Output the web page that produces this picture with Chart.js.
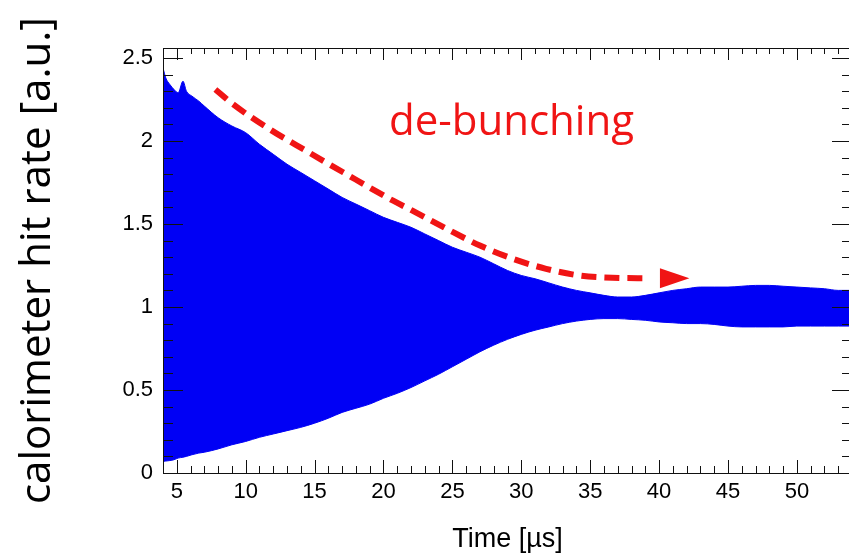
<!DOCTYPE html>
<html>
<head>
<meta charset="utf-8">
<title>calorimeter hit rate</title>
<script src="https://cdn.jsdelivr.net/npm/chart.js@4.4.1/dist/chart.umd.min.js"></script>
<style>
  html, body { margin: 0; padding: 0; background: #fff; overflow: hidden; }
  canvas { display: block; }
</style>
</head>
<body>
<canvas id="rate-chart" width="856" height="553"></canvas>
<script>
// time bins [us] and the envelope of the hit-rate oscillation
const times = [4.0, 4.2, 4.5, 4.8, 5.1, 5.45, 5.7, 6.1, 6.6, 7, 8, 9, 10, 11, 12, 13, 14, 15, 16, 17, 18, 19,
  20, 21, 22, 23, 24, 25, 26, 27, 28, 29, 30, 31, 32, 33, 34, 35, 36, 37, 38, 39, 40, 41, 42, 43, 44,
  45, 46, 47, 48, 49, 50, 51, 52, 53, 54];
const upperEdge = [2.44, 2.38, 2.34, 2.31, 2.29, 2.36, 2.30, 2.27, 2.24, 2.21, 2.14, 2.09, 2.05, 1.98, 1.92,
  1.86, 1.81, 1.76, 1.71, 1.66, 1.62, 1.58, 1.54, 1.51, 1.48, 1.44, 1.40, 1.36, 1.33, 1.30, 1.26, 1.22,
  1.19, 1.17, 1.145, 1.12, 1.10, 1.085, 1.07, 1.06, 1.06, 1.07, 1.085, 1.10, 1.11, 1.12, 1.12, 1.12,
  1.125, 1.13, 1.13, 1.125, 1.12, 1.115, 1.11, 1.10, 1.10];
const lowerEdge = [0.07, 0.072, 0.075, 0.08, 0.09, 0.095, 0.10, 0.11, 0.12, 0.125, 0.145, 0.17, 0.19, 0.215,
  0.235, 0.255, 0.275, 0.30, 0.33, 0.365, 0.39, 0.415, 0.45, 0.48, 0.515, 0.555, 0.595, 0.64, 0.685, 0.73,
  0.77, 0.805, 0.835, 0.86, 0.88, 0.90, 0.915, 0.925, 0.93, 0.93, 0.925, 0.92, 0.91, 0.905, 0.90, 0.90,
  0.895, 0.885, 0.88, 0.88, 0.88, 0.88, 0.885, 0.885, 0.885, 0.885, 0.885];

// "de-bunching" arrow path
const arrowTimes = [7.8, 9.1, 11.75, 14.4, 17.1, 20.7, 22.1, 24.6, 27.0, 29.4, 31.8, 34.2, 36.6, 39.3];
const arrowRates = [2.31, 2.22, 2.07, 1.94, 1.81, 1.64, 1.58, 1.47, 1.37, 1.29, 1.23, 1.19, 1.176, 1.173];
const arrowHead = { base: 40.06, tip: 42.2, rate: 1.173 };
const noteText = 'de-bunching';
const notePos = { x: 20.4, y: 2.036 };

const xTicks = [5, 10, 15, 20, 25, 30, 35, 40, 45, 50];
const yTicks = [0, 0.5, 1, 1.5, 2, 2.5];

const BLUE = '#0000f5';
const RED = 'rgb(240, 20, 20)';

// ROOT style frame: box plus inward ticks on all four sides
const frameTicks = {
  id: 'frameTicks',
  afterDraw(chart) {
    const { ctx, chartArea: { left, right, top, bottom }, scales: { x, y } } = chart;
    const px = (v) => Math.round(v) + 0.5;
    ctx.save();
    ctx.strokeStyle = '#111';
    ctx.lineWidth = 1;
    ctx.beginPath();
    ctx.rect(px(left), px(top), Math.round(right - left), Math.round(bottom - top));
    for (let k = 4; k <= 54; k++) {
      const xp = px(x.getPixelForValue(k));
      const major = k % 5 === 0;
      const lb = major ? 13 : 7;
      const lt = major ? 12 : 6;
      ctx.moveTo(xp, bottom);
      ctx.lineTo(xp, bottom - lb);
      ctx.moveTo(xp, top);
      ctx.lineTo(xp, top + lt);
    }
    for (let k = 0; k <= 25; k++) {
      const yp = px(y.getPixelForValue(k / 10));
      const len = k % 5 === 0 ? 20 : 10;
      ctx.moveTo(left, yp);
      ctx.lineTo(left + len, yp);
      ctx.moveTo(right, yp);
      ctx.lineTo(right - len, yp);
    }
    ctx.stroke();
    ctx.restore();
  },
};

// arrow head and the red label
const debunchNote = {
  id: 'debunchNote',
  afterDatasetsDraw(chart) {
    const { ctx, scales: { x, y } } = chart;
    const bx = x.getPixelForValue(arrowHead.base);
    const tx = x.getPixelForValue(arrowHead.tip);
    const ay = y.getPixelForValue(arrowHead.rate);
    ctx.save();
    ctx.fillStyle = RED;
    ctx.beginPath();
    ctx.moveTo(bx, ay - 10);
    ctx.lineTo(tx, ay);
    ctx.lineTo(bx, ay + 10);
    ctx.closePath();
    ctx.fill();
    ctx.font = '42px "Open Sans"';
    ctx.textAlign = 'left';
    ctx.textBaseline = 'alphabetic';
    ctx.fillText(noteText, x.getPixelForValue(notePos.x), y.getPixelForValue(notePos.y));
    ctx.restore();
  },
};

const tickFont = { family: '"Liberation Sans", Arial, sans-serif', size: 22 };

new Chart(document.getElementById('rate-chart'), {
  type: 'line',
  data: {
    datasets: [
      {
        data: times.map((t, i) => ({ x: t, y: lowerEdge[i] })),
        borderColor: BLUE,
        borderWidth: 1,
        pointRadius: 0,
        cubicInterpolationMode: 'monotone',
        fill: false,
      },
      {
        data: times.map((t, i) => ({ x: t, y: upperEdge[i] })),
        borderColor: BLUE,
        borderWidth: 1,
        backgroundColor: BLUE,
        pointRadius: 0,
        cubicInterpolationMode: 'monotone',
        fill: '-1',
      },
      {
        data: arrowTimes.map((t, i) => ({ x: t, y: arrowRates[i] })),
        borderColor: RED,
        borderWidth: 6,
        borderDash: [15, 8],
        borderCapStyle: 'butt',
        pointRadius: 0,
        cubicInterpolationMode: 'monotone',
        fill: false,
      },
    ],
  },
  options: {
    responsive: false,
    animation: false,
    devicePixelRatio: 1,
    layout: { padding: { top: 48, right: 4, left: 0, bottom: 0 } },
    plugins: {
      legend: { display: false },
      tooltip: { enabled: false },
    },
    scales: {
      x: {
        type: 'linear',
        min: 4,
        max: 54,
        border: { display: false },
        grid: { display: false, drawTicks: false },
        afterBuildTicks: (axis) => { axis.ticks = xTicks.map((v) => ({ value: v })); },
        afterFit: (axis) => { axis.height = 80; },
        ticks: {
          color: '#000',
          font: tickFont,
          padding: 6,
          maxRotation: 0,
          autoSkip: false,
          callback: (v) => String(v),
        },
        title: {
          display: true,
          text: 'Time [µs]',
          color: '#000',
          font: { family: '"Liberation Sans", Arial, sans-serif', size: 27, lineHeight: 1 },
          padding: { top: 0, bottom: 0 },
        },
      },
      y: {
        min: 0,
        max: 2.56,
        border: { display: false },
        grid: { display: false, drawTicks: false },
        afterBuildTicks: (axis) => { axis.ticks = yTicks.map((v) => ({ value: v })); },
        afterFit: (axis) => { axis.width = 163; },
        ticks: {
          color: '#000',
          font: tickFont,
          padding: 10,
          autoSkip: false,
          callback: (v) => String(v),
        },
        title: {
          display: true,
          text: 'calorimeter hit rate [a.u.]',
          color: '#000',
          font: { family: '"Open Sans", sans-serif', size: 42, lineHeight: 1 },
          padding: { top: 17, bottom: 0 },
        },
      },
    },
  },
  plugins: [frameTicks, debunchNote],
});
</script>
</body>
</html>
